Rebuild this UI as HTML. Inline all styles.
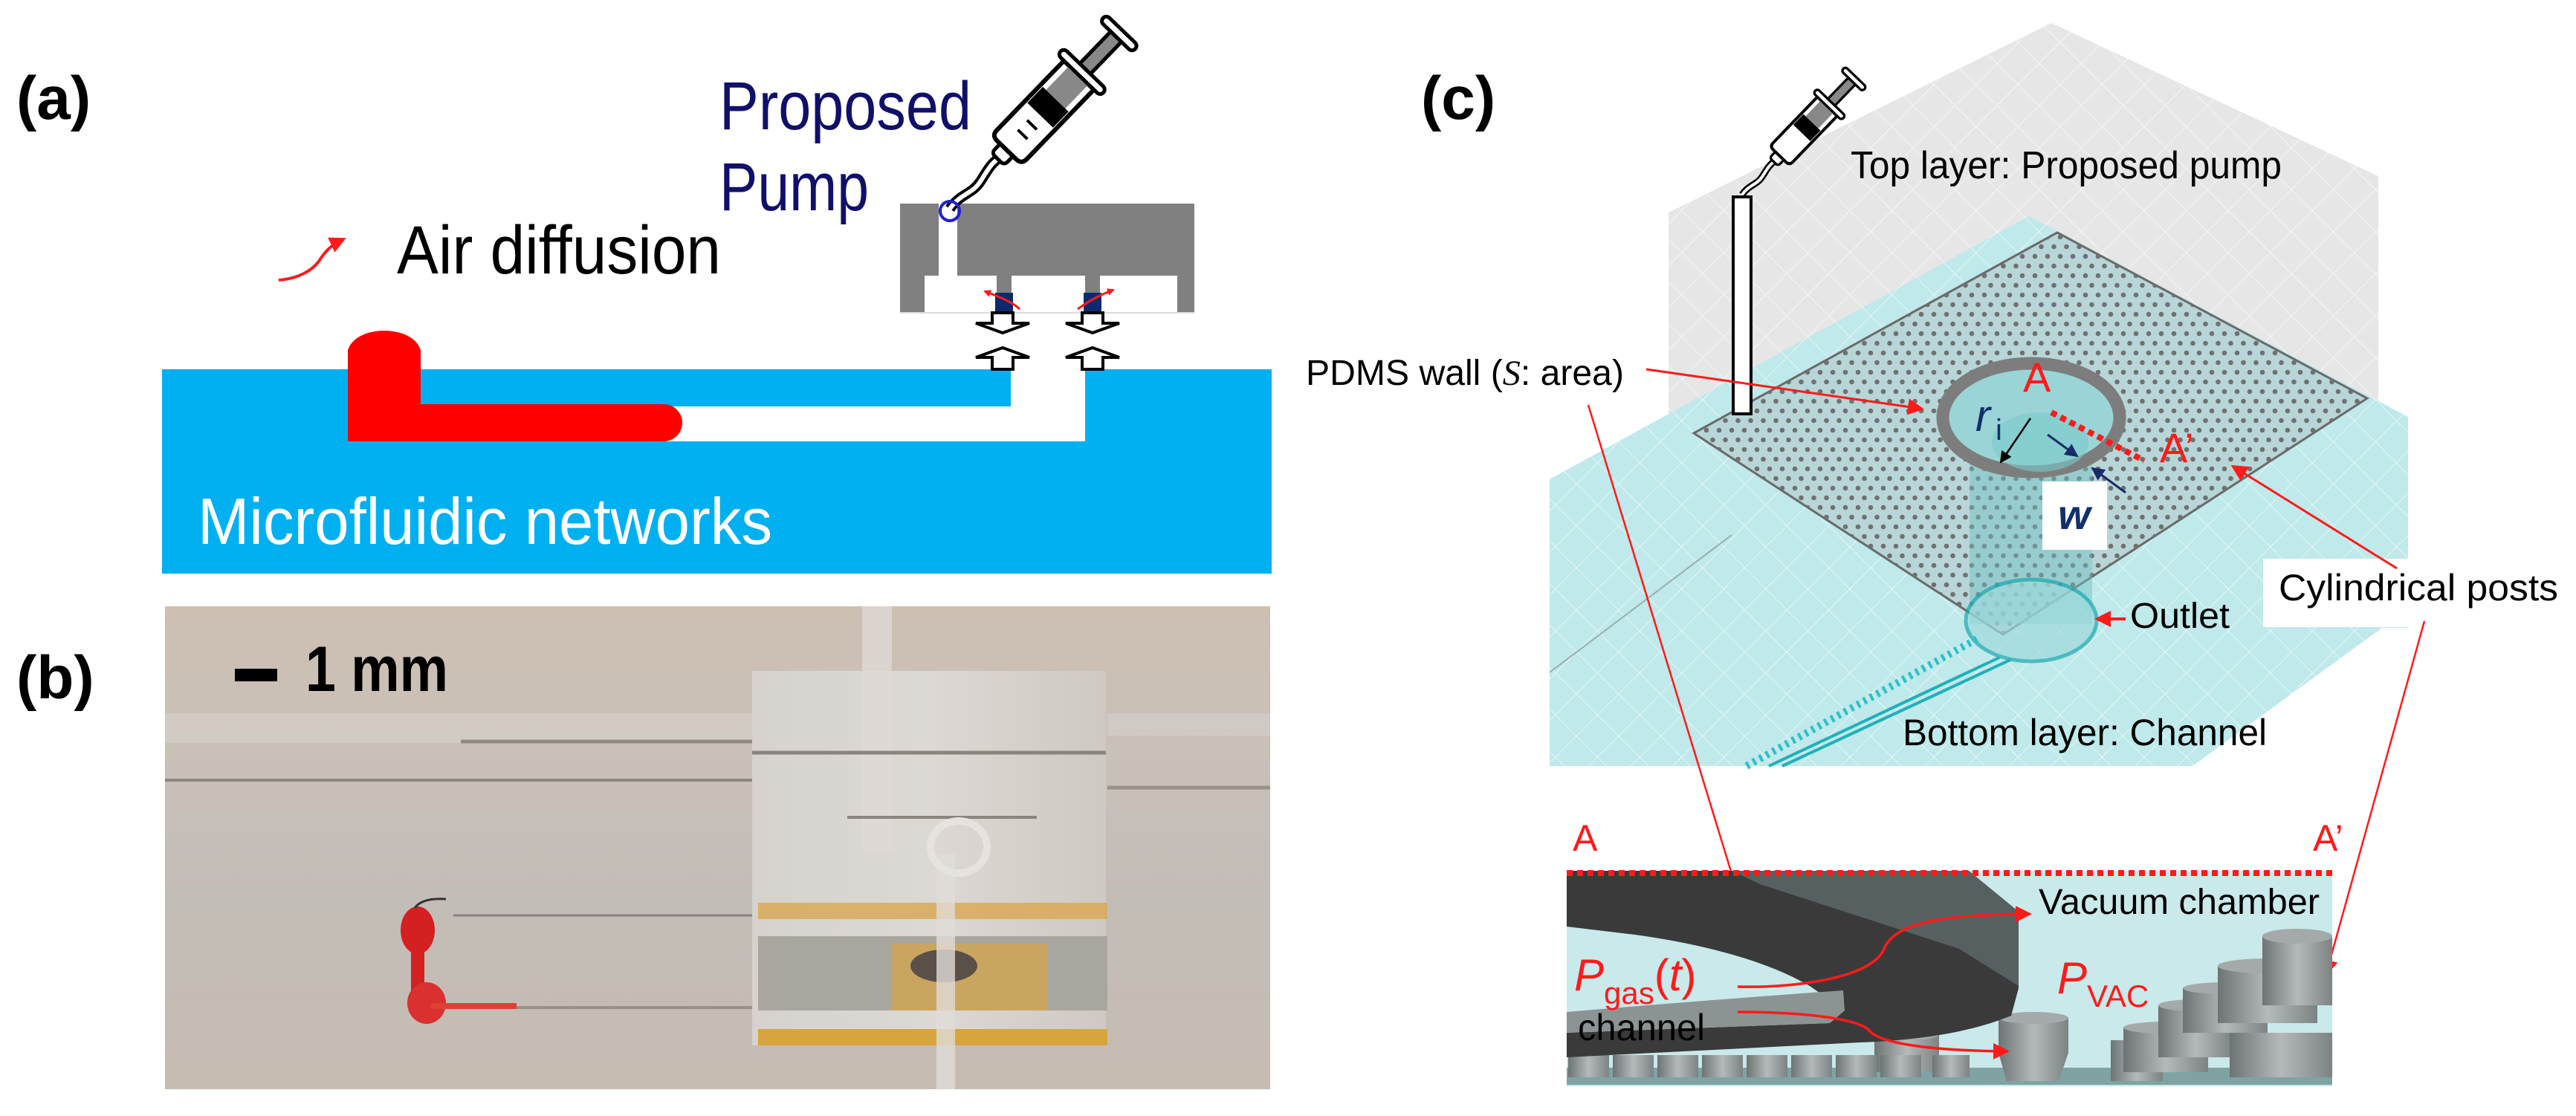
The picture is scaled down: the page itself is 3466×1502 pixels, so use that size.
<!DOCTYPE html>
<html><head><meta charset="utf-8"><style>
html,body{margin:0;padding:0;background:#fff;}
svg{display:block;}
text{font-family:"Liberation Sans",Arial,sans-serif;}
</style></head><body>
<svg width="3466" height="1502" viewBox="0 0 3466 1502" xmlns="http://www.w3.org/2000/svg">
<defs>
  <pattern id="grid" width="40" height="40" patternUnits="userSpaceOnUse" patternTransform="rotate(45)">
    <path d="M0 0H40M0 0V40" stroke="#ffffff" stroke-width="2" opacity="0.6" fill="none"/>
  </pattern>
  <pattern id="dots" width="17" height="26" patternUnits="userSpaceOnUse" patternTransform="translate(2768 313)">
    <circle cx="4" cy="6" r="3.3" fill="#707070"/>
    <circle cx="12.5" cy="19" r="3.3" fill="#707070"/>
  </pattern>
  <linearGradient id="photo" x1="0" y1="0" x2="0" y2="1">
    <stop offset="0" stop-color="#cdbfb2"/>
    <stop offset="0.3" stop-color="#c9c0b8"/>
    <stop offset="0.6" stop-color="#c3bdb7"/>
    <stop offset="1" stop-color="#c6bcb2"/>
  </linearGradient>
  <linearGradient id="block" x1="0" y1="0" x2="1" y2="0">
    <stop offset="0" stop-color="#d6d2ce"/>
    <stop offset="0.5" stop-color="#dcd8d3"/>
    <stop offset="1" stop-color="#cfc9c3"/>
  </linearGradient>
  <linearGradient id="post" x1="0" y1="0" x2="1" y2="0">
    <stop offset="0" stop-color="#6d7474"/>
    <stop offset="0.5" stop-color="#b5b9b9"/>
    <stop offset="1" stop-color="#7c8383"/>
  </linearGradient>
  <marker id="ar" markerWidth="10" markerHeight="10" refX="8" refY="5" orient="auto" markerUnits="userSpaceOnUse" viewBox="0 0 10 10">
    <path d="M0 0L10 5L0 10z" fill="#ff1a1a"/>
  </marker>
  <marker id="arB" markerWidth="22" markerHeight="22" refX="18" refY="11" orient="auto" markerUnits="userSpaceOnUse">
    <path d="M0 0L22 11L0 22z" fill="#ff1a1a"/>
  </marker>
  <marker id="arK" markerWidth="16" markerHeight="16" refX="14" refY="8" orient="auto" markerUnits="userSpaceOnUse">
    <path d="M0 0L16 8L0 16z" fill="#000"/>
  </marker>
  <marker id="arN" markerWidth="18" markerHeight="18" refX="16" refY="9" orient="auto" markerUnits="userSpaceOnUse">
    <path d="M0 0L18 9L0 18z" fill="#1a2a6a"/>
  </marker>
  <clipPath id="xsec"><rect x="2108" y="1172" width="1030" height="290"/></clipPath>
  <g id="cyl">
  </g>
</defs>

<!-- ===== Panel (a) ===== -->
<text x="22" y="160" font-size="82" font-weight="bold">(a)</text>

<rect x="218" y="497" width="1493" height="275" fill="#00b0f0"/>
<rect x="468" y="547" width="892" height="47" fill="#fff"/>
<rect x="1360" y="497" width="100" height="97" fill="#fff"/>
<rect x="468" y="470" width="98" height="124" fill="#ff0000"/>
<ellipse cx="517" cy="475" rx="49" ry="30" fill="#ff0000"/>
<path d="M468 544H893A25 25 0 0 1 893 594H468z" fill="#ff0000"/>
<text x="266" y="732" font-size="88" fill="#fff" textLength="773" lengthAdjust="spacingAndGlyphs">Microfluidic networks</text>

<path d="M375 377C400 375 420 365 430 350C438 338 445 330 462 322" stroke="#ff1a1a" stroke-width="4" fill="none" marker-end="url(#arB)"/>
<text x="534" y="368" font-size="92" textLength="436" lengthAdjust="spacingAndGlyphs">Air diffusion</text>

<text x="968" y="174" font-size="92" fill="#10106a" textLength="339" lengthAdjust="spacingAndGlyphs">Proposed</text>
<text x="968" y="283" font-size="92" fill="#10106a" textLength="201" lengthAdjust="spacingAndGlyphs">Pump</text>

<rect x="1211" y="274" width="396" height="147" fill="#808080"/>
<rect x="1263" y="274" width="25" height="100" fill="#fff"/>
<rect x="1244" y="371" width="340" height="50" fill="#fff"/>
<rect x="1341" y="371" width="20" height="25" fill="#808080"/>
<rect x="1460" y="371" width="20" height="25" fill="#808080"/>
<rect x="1339" y="394" width="24" height="27" fill="#0d2a6e"/>
<rect x="1458" y="394" width="24" height="27" fill="#0d2a6e"/>
<line x1="1211" y1="421" x2="1607" y2="421" stroke="#dcdcdc" stroke-width="2"/>
<path d="M1372 416C1360 405 1345 400 1325 392" stroke="#ff1a1a" stroke-width="3" fill="none" marker-end="url(#ar)"/>
<path d="M1450 416C1465 405 1478 398 1498 390" stroke="#ff1a1a" stroke-width="3" fill="none" marker-end="url(#ar)"/>
<g fill="#fff" stroke="#000" stroke-width="4">
  <path d="M1335 421H1363V435H1385L1349 448L1313 435H1335z"/>
  <path d="M1456 421H1484V435H1506L1470 448L1434 435H1456z"/>
  <path d="M1335 497H1363V481H1385L1349 468L1313 481H1335z"/>
  <path d="M1456 497H1484V481H1506L1470 468L1434 481H1456z"/>
</g>

<g transform="translate(1278 281) rotate(-46)">
  <path d="M0 0C25 -4 35 8 55 4C75 0 80 -2 95 0" stroke="#000" stroke-width="14" fill="none"/>
  <path d="M0 0C25 -4 35 8 55 4C75 0 80 -2 95 0" stroke="#fff" stroke-width="6" fill="none"/>
  <rect x="93" y="-12" width="30" height="24" rx="6" fill="#fff" stroke="#000" stroke-width="5"/>
  <path d="M120 -28H250V28H120Q110 28 110 18V-18Q110 -28 120 -28z" fill="#fff" stroke="#000" stroke-width="6"/>
  <rect x="175" y="-24" width="30" height="48" fill="#000"/>
  <rect x="205" y="-18" width="45" height="36" fill="#888"/>
  <line x1="140" y1="-8" x2="140" y2="10" stroke="#000" stroke-width="4"/>
  <line x1="158" y1="-8" x2="158" y2="10" stroke="#000" stroke-width="4"/>
  <rect x="250" y="-40" width="12" height="80" rx="6" fill="#fff" stroke="#000" stroke-width="5"/>
  <rect x="262" y="-10" width="60" height="20" fill="#888" stroke="#000" stroke-width="5"/>
  <rect x="322" y="-30" width="12" height="60" rx="6" fill="#fff" stroke="#000" stroke-width="5"/>
</g>
<circle cx="1278" cy="284" r="13" fill="none" stroke="#2020d0" stroke-width="4"/>

<!-- ===== Panel (b) ===== -->
<text x="22" y="940" font-size="82" font-weight="bold">(b)</text>
<rect x="222" y="816" width="1487" height="650" fill="url(#photo)"/>
<rect x="222" y="960" width="790" height="40" fill="#d8d2cc" opacity="0.6"/>
<line x1="222" y1="1050" x2="1012" y2="1050" stroke="#8c8680" stroke-width="4"/>
<line x1="620" y1="998" x2="1012" y2="998" stroke="#918a83" stroke-width="5"/>
<rect x="1012" y="903" width="476" height="504" fill="url(#block)"/>
<rect x="1490" y="960" width="219" height="30" fill="#d0cac4"/>
<line x1="1490" y1="1060" x2="1709" y2="1060" stroke="#9a9288" stroke-width="5"/>
<rect x="1160" y="816" width="40" height="330" fill="#dedad6" opacity="0.8"/>
<line x1="1012" y1="1013" x2="1488" y2="1013" stroke="#8a847e" stroke-width="5"/>
<line x1="1140" y1="1100" x2="1395" y2="1100" stroke="#8a847e" stroke-width="4"/>
<rect x="1020" y="1215" width="470" height="22" fill="#d8a850" opacity="0.8"/>
<rect x="1020" y="1260" width="470" height="100" fill="#a9a6a0"/>
<rect x="1200" y="1270" width="210" height="90" fill="#caa560"/>
<ellipse cx="1270" cy="1300" rx="45" ry="22" fill="#5a5048"/>
<rect x="1020" y="1385" width="470" height="22" fill="#d7a53c"/>
<rect x="1260" y="1150" width="25" height="316" fill="#e0dcd8" opacity="0.8"/>
<ellipse cx="1290" cy="1140" rx="38" ry="35" fill="none" stroke="#e6e3df" stroke-width="10"/>
<line x1="610" y1="1232" x2="1012" y2="1232" stroke="#8a847e" stroke-width="3"/>
<line x1="690" y1="1356" x2="1012" y2="1356" stroke="#9a9088" stroke-width="4"/>
<ellipse cx="562" cy="1252" rx="23" ry="32" fill="#d42020"/>
<rect x="553" y="1275" width="18" height="60" fill="#d42020"/>
<ellipse cx="574" cy="1350" rx="26" ry="28" fill="#da3030"/>
<rect x="580" y="1350" width="115" height="8" fill="#e04030"/>
<path d="M558 1222Q568 1208 600 1210" stroke="#333" stroke-width="3" fill="none"/>
<rect x="316" y="900" width="57" height="17" fill="#000"/>
<text x="411" y="930" font-size="86" font-weight="bold" textLength="192" lengthAdjust="spacingAndGlyphs">1 mm</text>

<!-- ===== Panel (c) ===== -->
<text x="1912" y="160" font-size="82" font-weight="bold">(c)</text>
<polygon points="2760,31 3200,237 3200,840 2245,840 2245,286" fill="#e6e6e6"/>
<polygon points="2760,31 3200,237 3200,840 2245,840 2245,286" fill="url(#grid)"/>
<polygon points="2730,291 3240,561 3240,845 3205,845 2950,1031 2085,1031 2085,645" fill="#bfe9ea"/>
<polygon points="2730,291 3240,561 3240,845 3205,845 2950,1031 2085,1031 2085,645" fill="url(#grid)"/>
<line x1="2085" y1="905" x2="2330" y2="720" stroke="#9aaeb0" stroke-width="2"/>
<polygon points="2768,313 3185,536 2695,854 2279,583" fill="#b8d6d7" stroke="#6a6a6a" stroke-width="3"/>
<polygon points="2768,313 3185,536 2695,854 2279,583" fill="url(#dots)"/>
<rect x="2650" y="590" width="165" height="250" fill="#6fc0c3" opacity="0.45"/>
<ellipse cx="2733" cy="835" rx="88" ry="55" fill="#9fdadc" opacity="0.7" stroke="#1aa8b0" stroke-width="5"/>
<path d="M2690 885L2380 1031M2705 888L2398 1031" stroke="#20b0b8" stroke-width="4" fill="none"/>
<path d="M2660 860L2350 1031" stroke="#30c0c8" stroke-width="10" stroke-dasharray="4 6" fill="none"/>
<ellipse cx="2733" cy="562" rx="119" ry="73" fill="#9ad4d6" stroke="#7d7d7d" stroke-width="17"/>
<ellipse cx="2745" cy="595" rx="65" ry="40" fill="#7ccacc" opacity="0.6"/>
<rect x="2332" y="265" width="24" height="292" fill="#fff" stroke="#000" stroke-width="4"/>
<g transform="translate(2344 262) rotate(-46) scale(0.66)">
  <path d="M0 0C25 -4 35 8 55 4C75 0 80 -2 95 0" stroke="#000" stroke-width="14" fill="none"/>
  <path d="M0 0C25 -4 35 8 55 4C75 0 80 -2 95 0" stroke="#fff" stroke-width="6" fill="none"/>
  <rect x="93" y="-12" width="30" height="24" rx="6" fill="#fff" stroke="#000" stroke-width="5"/>
  <path d="M120 -28H250V28H120Q110 28 110 18V-18Q110 -28 120 -28z" fill="#fff" stroke="#000" stroke-width="6"/>
  <rect x="175" y="-24" width="30" height="48" fill="#000"/>
  <rect x="205" y="-18" width="45" height="36" fill="#888"/>
  <rect x="250" y="-40" width="12" height="80" rx="6" fill="#fff" stroke="#000" stroke-width="5"/>
  <rect x="262" y="-10" width="60" height="20" fill="#888" stroke="#000" stroke-width="5"/>
  <rect x="322" y="-30" width="12" height="60" rx="6" fill="#fff" stroke="#000" stroke-width="5"/>
</g>
<text x="2490" y="240" font-size="52" textLength="580" lengthAdjust="spacingAndGlyphs">Top layer: Proposed pump</text>

<text x="2722" y="527" font-size="56" fill="#ff1a1a">A</text>
<line x1="2760" y1="555" x2="2885" y2="620" stroke="#ff1a1a" stroke-width="8" stroke-dasharray="8 6"/>
<text x="2906" y="622" font-size="56" fill="#ff1a1a">A’</text>
<text x="2658" y="580" font-size="60" font-style="italic" fill="#12306a" font-family="Liberation Serif,serif">r</text>
<text x="2685" y="592" font-size="40" fill="#12306a" font-family="Liberation Serif,serif">i</text>
<line x1="2732" y1="563" x2="2692" y2="622" stroke="#000" stroke-width="2.5" marker-end="url(#arK)"/>
<line x1="2755" y1="585" x2="2795" y2="614" stroke="#1a2a6a" stroke-width="3" marker-end="url(#arN)"/>
<line x1="2860" y1="663" x2="2815" y2="630" stroke="#1a2a6a" stroke-width="3" marker-end="url(#arN)"/>
<rect x="2748" y="648" width="87" height="92" fill="#fff"/>
<text x="2769" y="712" font-size="56" font-style="italic" font-weight="bold" fill="#12306a" font-family="Liberation Serif,serif">w</text>

<text x="1757" y="518" font-size="48" textLength="428" lengthAdjust="spacingAndGlyphs">PDMS wall (<tspan font-style="italic" font-family="Liberation Serif,serif">S</tspan>: area)</text>
<line x1="2215" y1="497" x2="2585" y2="550" stroke="#ff1a1a" stroke-width="3" marker-end="url(#arB)"/>
<line x1="2137" y1="545" x2="2345" y2="1225" stroke="#ff1a1a" stroke-width="2.5" marker-end="url(#arB)"/>

<rect x="3045" y="752" width="421" height="92" fill="#fff"/>
<text x="3066" y="808" font-size="50" textLength="376" lengthAdjust="spacingAndGlyphs">Cylindrical posts</text>
<line x1="3225" y1="765" x2="3005" y2="628" stroke="#ff1a1a" stroke-width="3" marker-end="url(#arB)"/>
<line x1="3262" y1="836" x2="3130" y2="1310" stroke="#ff1a1a" stroke-width="2.5" marker-end="url(#arB)"/>

<text x="2866" y="845" font-size="48" textLength="134" lengthAdjust="spacingAndGlyphs">Outlet</text>
<line x1="2860" y1="833" x2="2822" y2="833" stroke="#ff1a1a" stroke-width="4" marker-end="url(#arB)"/>
<text x="2560" y="1003" font-size="50" textLength="490" lengthAdjust="spacingAndGlyphs">Bottom layer: Channel</text>

<!-- Cross section -->
<text x="2116" y="1145" font-size="50" fill="#ff1a1a">A</text>
<text x="3112" y="1145" font-size="50" fill="#ff1a1a">A’</text>
<g clip-path="url(#xsec)">
  <rect x="2108" y="1172" width="1030" height="290" fill="#c9e9ea"/>
  <rect x="2108" y="1437" width="1030" height="23" fill="#7fa3a3"/>
  <!-- staircase posts right -->
  <g>
    <rect x="2840" y="1400" width="70" height="55" fill="url(#post)"/>
    <rect x="2857" y="1383" width="114" height="60" fill="url(#post)"/>
    <ellipse cx="2914" cy="1383" rx="57" ry="8" fill="#a4a9a9"/>
    <rect x="2904" y="1353" width="100" height="70" fill="url(#post)"/>
    <ellipse cx="2954" cy="1353" rx="50" ry="8" fill="#a4a9a9"/>
    <rect x="2937" y="1330" width="114" height="60" fill="url(#post)"/>
    <ellipse cx="2994" cy="1330" rx="57" ry="8" fill="#a4a9a9"/>
    <rect x="2984" y="1300" width="134" height="77" fill="url(#post)"/>
    <ellipse cx="3051" cy="1300" rx="67" ry="10" fill="#a4a9a9"/>
    <rect x="3044" y="1260" width="94" height="93" fill="url(#post)"/>
    <ellipse cx="3091" cy="1260" rx="47" ry="10" fill="#a4a9a9"/>
    <rect x="3000" y="1390" width="138" height="60" fill="url(#post)"/>
    <rect x="2522" y="1393" width="87" height="50" fill="url(#post)"/>
    <ellipse cx="2565" cy="1393" rx="43" ry="7" fill="#a4a9a9"/>
    <rect x="2689" y="1370" width="94" height="47" fill="url(#post)"/>
    <ellipse cx="2736" cy="1370" rx="47" ry="8" fill="#a4a9a9"/>
    <path d="M2689 1417H2783L2770 1455H2700z" fill="url(#post)"/>
  </g>
  <g fill="url(#post)">
    <rect x="2110" y="1420" width="55" height="30"/><rect x="2170" y="1420" width="55" height="30"/>
    <rect x="2230" y="1420" width="55" height="30"/><rect x="2290" y="1420" width="55" height="30"/>
    <rect x="2350" y="1420" width="55" height="30"/><rect x="2410" y="1420" width="55" height="30"/>
    <rect x="2470" y="1420" width="55" height="30"/><rect x="2530" y="1420" width="55" height="30"/>
    <rect x="2600" y="1420" width="50" height="30"/>
  </g>
  <!-- dark PDMS wall -->
  <path d="M2108 1172H2649L2716 1227V1330L2706 1367C2650 1390 2580 1400 2502 1403L2108 1423V1390L2462 1377L2482 1360L2435 1327C2380 1295 2300 1272 2200 1258L2108 1247Z" fill="#3a3a3a"/>
  <path d="M2330 1172H2649L2716 1227V1327L2636 1277L2368 1190Z" fill="#566060"/>
  <path d="M2108 1362C2250 1350 2380 1340 2480 1333L2482 1360L2462 1377L2108 1390Z" fill="#8c9393"/>
</g>
<line x1="2108" y1="1175" x2="3138" y2="1175" stroke="#ff1a1a" stroke-width="8" stroke-dasharray="8 6"/>
<text x="2743" y="1230" font-size="48" textLength="378" lengthAdjust="spacingAndGlyphs">Vacuum chamber</text>
<text x="2118" y="1333" font-size="60" font-style="italic" fill="#ff1a1a" font-family="Liberation Serif,serif">P<tspan font-size="42" font-style="normal" dy="18">gas</tspan><tspan font-style="normal" dy="-18">(</tspan><tspan font-style="italic">t</tspan><tspan font-style="normal">)</tspan></text>
<text x="2123" y="1400" font-size="50" textLength="171" lengthAdjust="spacingAndGlyphs">channel</text>
<text x="2768" y="1337" font-size="60" font-style="italic" fill="#ff1a1a" font-family="Liberation Serif,serif">P<tspan font-size="42" font-style="normal" dy="18">VAC</tspan></text>
<path d="M2338 1328C2420 1330 2520 1315 2535 1277C2550 1240 2620 1231 2730 1230" stroke="#ff1a1a" stroke-width="3.5" fill="none" marker-end="url(#arB)"/>
<path d="M2338 1362C2420 1362 2500 1370 2515 1387C2530 1405 2600 1414 2700 1415" stroke="#ff1a1a" stroke-width="3.5" fill="none" marker-end="url(#arB)"/>
</svg>
</body></html>
